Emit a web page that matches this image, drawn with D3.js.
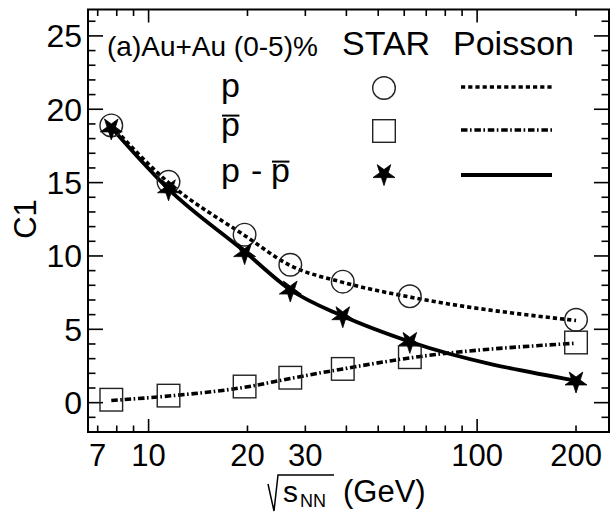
<!DOCTYPE html>
<html><head><meta charset="utf-8">
<script src="https://cdn.jsdelivr.net/npm/d3@7/dist/d3.min.js"></script>
<style>
body{margin:0;background:#fff;}
svg{display:block;font-family:"Liberation Sans",Arial,Helvetica,sans-serif;}
</style></head>
<body>
<svg id="c" width="610" height="512"></svg>
<script>
// ---- data ----
const energies = [7.7, 11.5, 19.6, 27, 39, 62.4, 200];
const protonC1 = [18.9, 15.05, 11.45, 9.4, 8.25, 7.25, 5.65];
const antiprotonC1 = [0.2, 0.48, 1.1, 1.7, 2.3, 3.1, 4.1];
const netProtonC1 = [18.7, 14.55, 10.2, 7.65, 5.9, 4.15, 1.45];
const poissonP = [18.9, 15.0, 11.4, 9.35, 8.2, 7.2, 5.6];
const poissonPbar = [0.15, 0.45, 1.05, 1.65, 2.3, 3.05, 4.05];
const poissonNet = [18.75, 14.55, 10.3, 7.7, 5.9, 4.15, 1.5];
const xTickLabels = [7, 10, 20, 30, 100, 200];
const xMajorTicks = [10, 100];
const xMinorTicks = [7, 8, 9, 20, 30, 40, 50, 60, 70, 80, 90, 200];
const yTickLabels = [0, 5, 10, 15, 20, 25];
const yMinorTicks = [-1, 1, 2, 3, 4, 6, 7, 8, 9, 11, 12, 13, 14, 16, 17, 18, 19, 21, 22, 23, 24, 26];

const svg = d3.select("#c");
const L = 88, R = 609, T = 9.5, B = 432;
const x = d3.scaleLog().domain([6.54, 252]).range([L, R]);
const y = d3.scaleLinear().domain([-2, 26.8]).range([B, T]);

// ---- frame and ticks ----
function vTicks(vals, len){
  vals.forEach(v=>{
    svg.append("line").attr("x1",x(v)).attr("x2",x(v)).attr("y1",B).attr("y2",B-len).attr("stroke","#000").attr("stroke-width",1.6);
    svg.append("line").attr("x1",x(v)).attr("x2",x(v)).attr("y1",T).attr("y2",T+len).attr("stroke","#000").attr("stroke-width",1.6);
  });
}
function hTicks(vals, len){
  vals.forEach(v=>{
    svg.append("line").attr("y1",y(v)).attr("y2",y(v)).attr("x1",L).attr("x2",L+len).attr("stroke","#000").attr("stroke-width",1.6);
    svg.append("line").attr("y1",y(v)).attr("y2",y(v)).attr("x1",R).attr("x2",R-len).attr("stroke","#000").attr("stroke-width",1.6);
  });
}
vTicks(xMajorTicks, 13);
vTicks(xMinorTicks, 6.5);
hTicks(yTickLabels, 15);
hTicks(yMinorTicks, 7.5);
svg.append("rect").attr("x",L).attr("y",T).attr("width",R-L).attr("height",B-T)
  .attr("fill","none").attr("stroke","#000").attr("stroke-width",2);

// ---- tick labels ----
svg.selectAll(".xl").data(xTickLabels).enter().append("text")
  .attr("x",d=>x(d)).attr("y",466).attr("text-anchor","middle")
  .attr("font-size",31).text(d=>d);
svg.selectAll(".yl").data(yTickLabels).enter().append("text")
  .attr("x",82).attr("y",d=>y(d)+11.5).attr("text-anchor","end")
  .attr("font-size",32).text(d=>d);

// ---- axis titles ----
svg.append("text").attr("transform","translate(36,219) rotate(-90)")
  .attr("text-anchor","middle").attr("font-size",31).text("C1");
svg.append("path").attr("d","M268,484 L274,511 L278,475 L334,475")
  .attr("fill","none").attr("stroke","#000").attr("stroke-width",1.5);
svg.append("text").attr("x",283).attr("y",502).attr("font-size",30).text("s");
svg.append("text").attr("x",300).attr("y",507).attr("font-size",18).text("NN");
svg.append("text").attr("x",343).attr("y",502).attr("font-size",31).text("(GeV)");

// ---- curves ----
const dotted = "4.2,3";
const dashDot = "6.5,2.5,1.6,2.8";
function curve(vals, dash, w){
  const line = d3.line().x((d,i)=>x(energies[i])).y(d=>y(d)).curve(d3.curveMonotoneX);
  svg.append("path").attr("d",line(vals)).attr("fill","none").attr("stroke","#000")
    .attr("stroke-width",w).attr("stroke-dasharray",dash);
}
curve(poissonP, dotted, 3.6);
curve(poissonPbar, dashDot, 3.6);
curve(poissonNet, null, 3.8);

// ---- markers ----
const starPath = d3.symbol().type(d3.symbolStar).size(150)();
function circle(cx, cy){
  svg.append("circle").attr("cx",cx).attr("cy",cy).attr("r",11.3)
    .attr("fill","none").attr("stroke","#222").attr("stroke-width",1.4);
}
function square(cx, cy){
  svg.append("rect").attr("x",cx-11.3).attr("y",cy-11.3).attr("width",22.6).attr("height",22.6)
    .attr("fill","none").attr("stroke","#222").attr("stroke-width",1.4);
}
function star(cx, cy){
  svg.append("path").attr("d",starPath).attr("transform",`translate(${cx},${cy}) rotate(180)`)
    .attr("fill","#000").attr("stroke","#000").attr("stroke-width",0.8);
}
energies.forEach((e,i)=>circle(x(e), y(protonC1[i])));
energies.forEach((e,i)=>square(x(e), y(antiprotonC1[i])));
energies.forEach((e,i)=>star(x(e), y(netProtonC1[i])));

// ---- legend ----
svg.append("text").attr("x",107).attr("y",56).attr("font-size",28).text("(a)Au+Au (0-5)%");
svg.append("text").attr("x",342).attr("y",55).attr("font-size",34).text("STAR");
svg.append("text").attr("x",453).attr("y",55).attr("font-size",34).text("Poisson");

function barP(xx, yy, fs){
  const t = svg.append("text").attr("x",xx).attr("y",yy).attr("font-size",fs).text("p");
  const w = t.node().getComputedTextLength();
  svg.append("line").attr("x1",xx+1).attr("x2",xx+w-0.5).attr("y1",yy-0.6*fs).attr("y2",yy-0.6*fs)
    .attr("stroke","#000").attr("stroke-width",2);
  return w;
}
svg.append("text").attr("x",221).attr("y",97).attr("font-size",34).text("p");
barP(221, 136, 34);
svg.append("text").attr("x",221).attr("y",182).attr("font-size",34).text("p");
svg.append("text").attr("x",251).attr("y",182).attr("font-size",34).text("-");
barP(271, 182, 34);

circle(384, 88);
square(384, 131);
star(384, 174);
svg.append("line").attr("x1",461).attr("x2",552).attr("y1",87).attr("y2",87)
  .attr("stroke","#000").attr("stroke-width",3.4).attr("stroke-dasharray",dotted);
svg.append("line").attr("x1",461).attr("x2",552).attr("y1",130).attr("y2",130)
  .attr("stroke","#000").attr("stroke-width",3.4).attr("stroke-dasharray",dashDot);
svg.append("line").attr("x1",461).attr("x2",552).attr("y1",175).attr("y2",175)
  .attr("stroke","#000").attr("stroke-width",3.8);
</script>
</body></html>
